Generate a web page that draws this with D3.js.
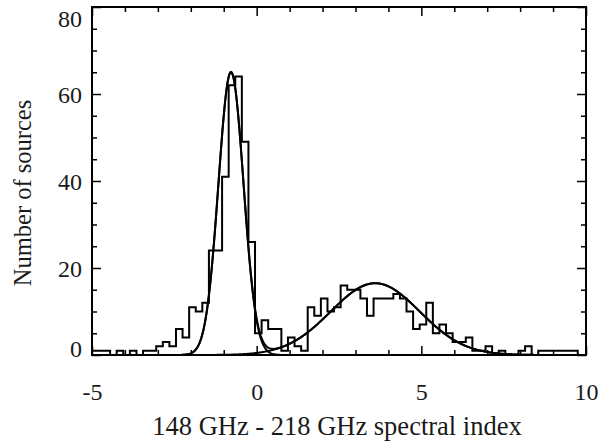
<!DOCTYPE html>
<html>
<head>
<meta charset="utf-8">
<script src="https://cdn.jsdelivr.net/npm/d3@7"></script>
<style>
  html, body { margin: 0; padding: 0; background: #fff; }
  svg { display: block; }
  text { font-family: "Liberation Serif", "Times New Roman", serif; fill: #1a1a1a; }
</style>
</head>
<body>
<svg id="chart" width="602" height="442"></svg>
<script>
// ---- data ----
// histogram bins: left edges and counts (bin width 0.2)
const binLeft = [-5.05,-4.85,-4.65,-4.45,-4.25,-4.05,-3.85,-3.65,-3.45,-3.25,-3.05,-2.85,-2.65,-2.45,-2.25,-2.05,-1.85,-1.65,-1.45,-1.25,-1.05,-0.85,-0.65,-0.45,-0.25,-0.05,0.15,0.35,0.55,0.75,0.95,1.15,1.35,1.55,1.75,1.95,2.15,2.35,2.55,2.75,2.95,3.15,3.35,3.55,3.75,3.95,4.15,4.35,4.55,4.75,4.95,5.15,5.35,5.55,5.75,5.95,6.15,6.35,6.55,6.75,6.95,7.15,7.35,7.55,7.75,7.95,8.15,8.35,8.55,8.75,8.95,9.15,9.35,9.55];
const binCounts = [1,1,1,0,1,0,1,0,1,1,2,3,2,6,4,11,10,12,24,24,41,62,64,49,26,5,8,6,6,1,4,2,1,11,9,13,10,11,16,15,15,13,9,13,13,13,14,13,10,6,7,12,5,7,5,3,3,4,1,1,2,0,1,0,0,1,2,0,1,1,1,1,1,1];
const binWidth = 0.2;
// Gaussian fits: [amplitude, mean, sigma]
const gaussLeft = [65, -0.78, 0.38];
const gaussRight = [16.5, 3.6, 1.35];
// axis ticks
const xMajorTicks = [-5, 0, 5, 10];
const xMinorTicks = [-4,-3,-2,-1,1,2,3,4,6,7,8,9];
const yMajorTicks = [0, 20, 40, 60, 80];
const yMinorTicks = [5,10,15,25,30,35,45,50,55,65,70,75];
const xTitle = "148 GHz - 218 GHz spectral index";
const yTitle = "Number of sources";

// ---- layout ----
const L = 92, R = 586, T = 7, B = 355;
const svg = d3.select("#chart");
const x = d3.scaleLinear().domain([-5, 10]).range([L, R]);
const y = d3.scaleLinear().domain([0, 80]).range([B, T]);

svg.append("defs").append("clipPath").attr("id", "clip")
  .append("rect").attr("x", L).attr("y", T).attr("width", R - L).attr("height", B - T);

const plot = svg.append("g").attr("clip-path", "url(#clip)");

// histogram step outline
let p = d3.path();
p.moveTo(x(binLeft[0]), y(binCounts[0]));
binLeft.forEach((b, i) => {
  if (i > 0) p.lineTo(x(b), y(binCounts[i]));
  p.lineTo(x(b + binWidth), y(binCounts[i]));
});
p.lineTo(x(binLeft[binLeft.length - 1] + binWidth), y(0));
plot.append("path").attr("d", p.toString())
  .attr("fill", "none").attr("stroke", "#000").attr("stroke-width", 2)
  .attr("stroke-linejoin", "miter");

// gaussian curves
const g = (par, v) => par[0] * Math.exp(-((v - par[1]) ** 2) / (2 * par[2] ** 2));
const xs = d3.range(-5, 10.0001, 0.02);
const line = d3.line().x(d => x(d[0])).y(d => y(d[1])).curve(d3.curveLinear);
[
  xs.map(v => [v, g(gaussLeft, v)]),
  xs.map(v => [v, g(gaussRight, v)]),
  xs.map(v => [v, g(gaussLeft, v) + g(gaussRight, v)])
].forEach(pts => {
  plot.append("path").attr("d", line(pts))
    .attr("fill", "none").attr("stroke", "#000").attr("stroke-width", 2);
});

// axes (ticks inward on all four sides)
function styleAxis(sel) {
  sel.select(".domain").remove();
  sel.selectAll("line").attr("stroke", "#000").attr("stroke-width", 1.5);
  sel.selectAll("text").style("font-size", "24px").attr("fill", "#1a1a1a")
     .style("font-family", "'Liberation Serif', serif");
}
const fmt = d => (d < 0 ? "-" + Math.abs(d) : String(d));

svg.append("g").attr("transform", `translate(0,${B})`)
  .call(d3.axisBottom(x).tickValues(xMajorTicks).tickSize(-9).tickPadding(28).tickFormat(fmt))
  .call(styleAxis);
svg.append("g").attr("transform", `translate(0,${B})`)
  .call(d3.axisBottom(x).tickValues(xMinorTicks).tickSize(-5).tickFormat(""))
  .call(styleAxis);
svg.append("g").attr("transform", `translate(0,${T})`)
  .call(d3.axisTop(x).tickValues(xMajorTicks).tickSize(-9).tickFormat(""))
  .call(styleAxis);
svg.append("g").attr("transform", `translate(0,${T})`)
  .call(d3.axisTop(x).tickValues(xMinorTicks).tickSize(-5).tickFormat(""))
  .call(styleAxis);

const yl = svg.append("g").attr("transform", `translate(${L},0)`)
  .call(d3.axisLeft(y).tickValues(yMajorTicks).tickSize(-9).tickPadding(10))
  .call(styleAxis);
yl.selectAll(".tick text").attr("dy", d => d === 80 ? "0.8em" : d === 0 ? "0.05em" : "0.34em");
svg.append("g").attr("transform", `translate(${L},0)`)
  .call(d3.axisLeft(y).tickValues(yMinorTicks).tickSize(-5).tickFormat(""))
  .call(styleAxis);
svg.append("g").attr("transform", `translate(${R},0)`)
  .call(d3.axisRight(y).tickValues(yMajorTicks).tickSize(-9).tickFormat(""))
  .call(styleAxis);
svg.append("g").attr("transform", `translate(${R},0)`)
  .call(d3.axisRight(y).tickValues(yMinorTicks).tickSize(-5).tickFormat(""))
  .call(styleAxis);

// frame
svg.append("rect").attr("x", L).attr("y", T).attr("width", R - L).attr("height", B - T)
  .attr("fill", "none").attr("stroke", "#000").attr("stroke-width", 2);

// titles
svg.append("text").attr("x", (L + R) / 2 - 2).attr("y", 435)
  .attr("text-anchor", "middle").style("font-size", "26.5px").text(xTitle);
svg.append("text").attr("transform", `translate(31,${(T + B) / 2 + 12}) rotate(-90)`)
  .attr("text-anchor", "middle").style("font-size", "24.5px").text(yTitle);
</script>
</body>
</html>
